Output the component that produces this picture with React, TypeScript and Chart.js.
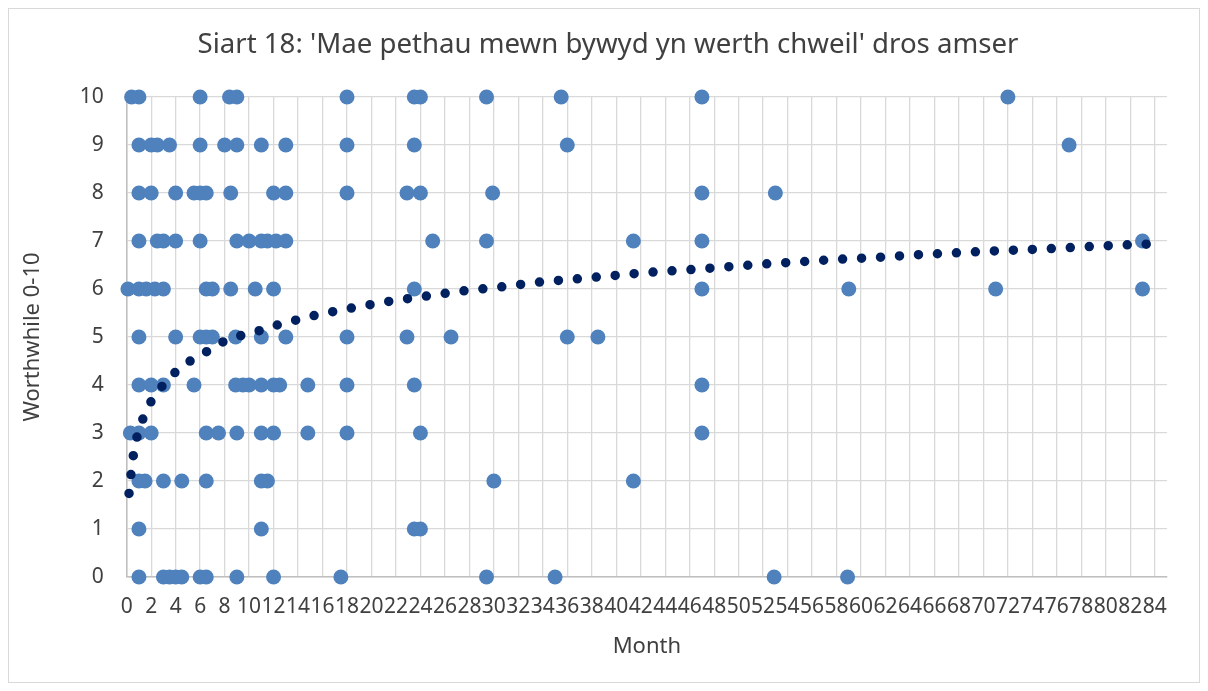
import React, { useEffect, useRef } from "react";
import { Chart, registerables } from "chart.js";

Chart.register(...registerables);

const chartTitle = "Siart 18: 'Mae pethau mewn bywyd yn werth chweil' dros amser";
const xAxisTitle = "Month";
const yAxisTitle = "Worthwhile 0-10";

// Months at which each score (0-10) was recorded
const monthsScore10 = [0.4, 1.0, 6.0, 8.4, 9.0, 18.0, 23.5, 24.0, 29.4, 35.5, 47.0, 72.0];
const monthsScore9 = [1.0, 2.0, 2.5, 3.5, 6.0, 8.0, 9.0, 11.0, 13.0, 18.0, 23.5, 36.0, 77.0];
const monthsScore8 = [1.0, 2.0, 4.0, 5.5, 6.0, 6.5, 8.5, 12.0, 13.0, 18.0, 22.9, 24.0, 29.9, 47.0, 53.0];
const monthsScore7 = [1.0, 2.5, 3.0, 4.0, 6.0, 9.0, 10.0, 11.0, 11.5, 12.2, 13.0, 25.0, 29.4, 41.4, 47.0, 83.0];
const monthsScore6 = [0.1, 1.0, 1.6, 2.3, 3.0, 6.5, 7.0, 8.5, 10.5, 12.0, 23.5, 47.0, 59.0, 71.0, 83.0];
const monthsScore5 = [1.0, 4.0, 6.0, 6.5, 7.0, 8.9, 11.0, 13.0, 18.0, 22.9, 26.5, 36.0, 38.5];
const monthsScore4 = [1.0, 2.0, 3.0, 5.5, 8.9, 9.5, 10.0, 11.0, 12.0, 12.5, 14.8, 18.0, 23.5, 47.0];
const monthsScore3 = [0.3, 1.0, 2.0, 6.5, 7.5, 9.0, 11.0, 12.0, 14.8, 18.0, 24.0, 47.0];
const monthsScore2 = [1.0, 1.5, 3.0, 4.5, 6.5, 11.0, 11.5, 30.0, 41.4];
const monthsScore1 = [1.0, 11.0, 23.5, 24.0];
const monthsScore0 = [1.0, 3.0, 3.5, 4.0, 4.5, 6.0, 6.5, 9.0, 12.0, 17.5, 29.4, 35.0, 52.9, 58.9];

// Trend line
const trendMonths = [0.19, 0.35, 0.54, 0.84, 1.33, 1.98, 2.91, 3.94, 5.19, 6.5, 7.89, 9.33, 10.8, 12.3, 13.8, 15.2, 18.3, 21.4, 24.4, 27.5, 30.5, 33.6, 36.7, 39.8, 42.9, 45.9, 49.0, 52.1, 55.2, 58.3, 61.4, 64.4, 67.5, 70.6, 73.7, 76.8, 79.9, 82.9, 84.5];
const trendValues = [1.74, 2.14, 2.53, 2.92, 3.30, 3.65, 3.98, 4.26, 4.50, 4.69, 4.90, 5.03, 5.13, 5.25, 5.35, 5.44, 5.60, 5.74, 5.85, 5.96, 6.04, 6.14, 6.21, 6.28, 6.35, 6.40, 6.46, 6.52, 6.57, 6.62, 6.66, 6.71, 6.75, 6.79, 6.82, 6.86, 6.90, 6.93, 6.94];

// Axis ticks
const xTickValues = [0, 2, 4, 6, 8, 10, 12, 14, 16, 18, 20, 22, 24, 26, 28, 30, 32, 34, 36, 38, 40, 42, 44, 46, 48, 50, 52, 54, 56, 58, 60, 62, 64, 66, 68, 70, 72, 74, 76, 78, 80, 82, 84];
const xMin = 0;
const xMax = 85;
const yMin = 0;
const yMax = 10;
const yStep = 1;

const scoreGroups: [number, number[]][] = [
  [10, monthsScore10], [9, monthsScore9], [8, monthsScore8], [7, monthsScore7],
  [6, monthsScore6], [5, monthsScore5], [4, monthsScore4], [3, monthsScore3],
  [2, monthsScore2], [1, monthsScore1], [0, monthsScore0],
];

const FONT = '"Noto Sans", "Open Sans", sans-serif';
const TEXT = "#404040";

const titlePlugin = {
  id: "customTitle",
  afterDraw(chart: any) {
    const ctx = chart.ctx;
    ctx.save();
    ctx.font = `27.6px ${FONT}`;
    ctx.fillStyle = TEXT;
    ctx.textAlign = "center";
    ctx.textBaseline = "middle";
    ctx.fillText(chartTitle, 599, 36);
    ctx.restore();
  },
};

export default function App() {
  const ref = useRef<HTMLCanvasElement | null>(null);

  useEffect(() => {
    if (!ref.current) return;
    const points: { x: number; y: number }[] = [];
    scoreGroups.forEach(([score, months]) => {
      months.forEach((m) => points.push({ x: m, y: score }));
    });
    const trend = trendMonths.map((m, i) => ({ x: m, y: trendValues[i] }));

    const chart = new Chart(ref.current, {
      type: "scatter",
      data: {
        datasets: [
          {
            label: "Trend",
            data: trend,
            showLine: true,
            pointRadius: 0,
            borderColor: "#002060",
            borderWidth: 9.5,
            borderDash: [0, 19],
            borderCapStyle: "round",
            cubicInterpolationMode: "monotone",
            fill: false,
            clip: false,
          } as any,
          {
            label: "Worthwhile",
            data: points,
            pointRadius: 7.5,
            pointHoverRadius: 7.5,
            backgroundColor: "#4F81BD",
            borderWidth: 0,
            clip: false,
          } as any,
        ],
      },
      options: {
        responsive: false,
        animation: false,
        layout: { padding: { top: 88, left: 0, right: 32, bottom: 0 } },
        plugins: {
          legend: { display: false },
          title: { display: false },
          tooltip: { enabled: false },
        },
        scales: {
          x: {
            type: "linear",
            min: xMin,
            max: xMax,
            afterBuildTicks: (scale: any) => {
              scale.ticks = xTickValues.map((v) => ({ value: v }));
            },
            afterFit: (scale: any) => {
              scale.height = 105;
            },
            ticks: {
              autoSkip: false,
              maxRotation: 0,
              minRotation: 0,
              padding: 17,
              color: TEXT,
              font: { family: FONT, size: 21 },
            },
            grid: { color: "#d9d9d9", lineWidth: 1.3, drawTicks: false },
            border: { color: "#bfbfbf", width: 1.5 },
            title: {
              display: true,
              text: xAxisTitle,
              color: TEXT,
              font: { family: FONT, size: 22 },
              padding: { top: 0, bottom: 22 },
            },
          },
          y: {
            type: "linear",
            min: yMin,
            max: yMax,
            afterFit: (scale: any) => {
              scale.width = 117.7;
            },
            ticks: {
              stepSize: yStep,
              padding: 23,
              color: TEXT,
              font: { family: FONT, size: 21 },
            },
            grid: { color: "#d9d9d9", lineWidth: 1.3, drawTicks: false },
            border: { color: "#bfbfbf", width: 1.5 },
            title: {
              display: true,
              text: yAxisTitle,
              color: TEXT,
              font: { family: FONT, size: 22 },
              padding: { top: 11, bottom: 0 },
            },
          },
        },
      },
      plugins: [titlePlugin],
    });
    return () => chart.destroy();
  }, []);

  return (
    <div style={{ width: 1190, height: 673, border: "1px solid #d9d9d9", background: "#fff" }}>
      <canvas ref={ref} width={1190} height={673} style={{ display: "block" }} />
    </div>
  );
}
